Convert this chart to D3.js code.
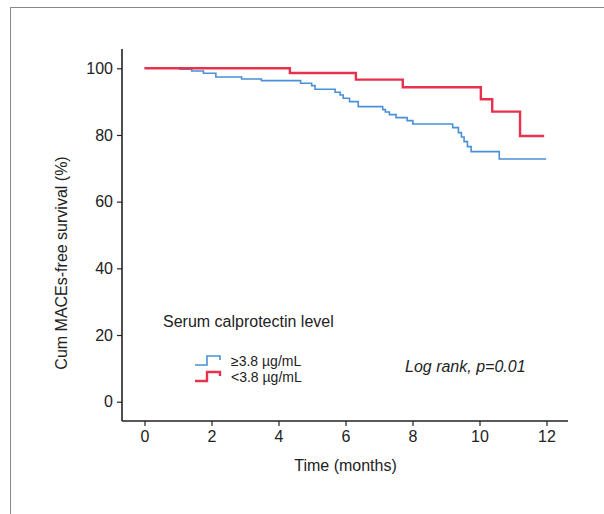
<!DOCTYPE html>
<html lang="en">
<head>
    <meta charset="UTF-8">
    <title>KM survival</title>
    <script src="https://d3js.org/d3.v7.min.js"></script>
    <style>
        body { margin: 0; background: #fff; }
        text { font-family: "Liberation Sans", Arial, sans-serif; fill: #222; }
        .axis text { font-size: 16px; }
        .axis line, .axis path { stroke: #222; }
        .km { fill: none; }
    </style>
</head>
<body>
    <svg width="604" height="514"></svg>
    <script>
        // event times (months) and survival (%)
        const highTimes = [0, 1.06, 1.41, 1.76, 2.13, 2.90, 3.49, 4.66, 4.99, 5.09, 5.69, 5.84, 5.93, 6.12, 6.38,
            7.11, 7.19, 7.31, 7.51, 7.84, 8.01, 9.20, 9.37, 9.46, 9.54, 9.64, 9.75, 10.59, 11.99];
        const highSurv = [100, 99.7, 99.2, 98.5, 97.4, 96.8, 96.3, 95.5, 94.8, 93.7, 92.8, 92.0, 91.0, 90.0, 88.5,
            87.6, 86.9, 86.1, 85.2, 84.3, 83.3, 82.2, 80.7, 79.4, 78.0, 76.5, 75.0, 72.8, 72.8];

        const lowTimes = [0, 4.34, 6.31, 7.71, 10.04, 10.38, 11.21, 11.93];
        const lowSurv = [100, 98.6, 96.6, 94.3, 90.7, 87.0, 79.7, 79.7];

        const xTicks = [0, 2, 4, 6, 8, 10, 12];
        const yTicks = [0, 20, 40, 60, 80, 100];

        const svg = d3.select("svg");

        // outer frame (only top and left edges fall inside the picture)
        svg.append("rect")
            .attr("x", 10.5).attr("y", 7.5)
            .attr("width", 700).attr("height", 700)
            .attr("fill", "none").attr("stroke", "#8a8a8a").attr("stroke-width", 1);

        const x = d3.scaleLinear().domain([0, 12]).range([144.5, 546.5]);
        const y = d3.scaleLinear().domain([0, 100]).range([401.7, 68.3]);

        const axisX = 122, axisY = 421;

        // x axis
        const gx = svg.append("g").attr("class", "axis")
            .attr("transform", `translate(0,${axisY})`)
            .call(d3.axisBottom(x).tickValues(xTicks).tickSize(5).tickSizeOuter(0).tickPadding(5));
        gx.select(".domain").remove();
        gx.selectAll("line").attr("stroke-width", 1.2);
        svg.append("line")
            .attr("x1", axisX).attr("x2", 568).attr("y1", axisY).attr("y2", axisY)
            .attr("stroke", "#222").attr("stroke-width", 1.6);

        // y axis
        const gy = svg.append("g").attr("class", "axis")
            .attr("transform", `translate(${axisX},0)`)
            .call(d3.axisLeft(y).tickValues(yTicks).tickSize(5).tickSizeOuter(0).tickPadding(4));
        gy.select(".domain").remove();
        gy.selectAll("line").attr("stroke-width", 1.2);
        svg.append("line")
            .attr("x1", axisX).attr("x2", axisX).attr("y1", 49).attr("y2", axisY)
            .attr("stroke", "#222").attr("stroke-width", 1.6);

        svg.append("text")
            .attr("x", 345.5).attr("y", 471)
            .attr("text-anchor", "middle")
            .style("font-size", "16px")
            .text("Time (months)");

        svg.append("text")
            .attr("transform", "translate(67,263) rotate(-90)")
            .attr("text-anchor", "middle")
            .style("font-size", "16px")
            .text("Cum MACEs-free survival (%)");

        const step = d3.line()
            .x(d => x(d[0]))
            .y(d => y(d[1]))
            .curve(d3.curveStepAfter);

        svg.append("path").attr("class", "km")
            .attr("d", step(d3.zip(highTimes, highSurv)))
            .attr("stroke", "#4a90d9").attr("stroke-width", 1.6);

        svg.append("path").attr("class", "km")
            .attr("d", step(d3.zip(lowTimes, lowSurv)))
            .attr("stroke", "#e8314d").attr("stroke-width", 2.4);

        // legend
        svg.append("text")
            .attr("x", 163).attr("y", 327)
            .style("font-size", "16px")
            .text("Serum calprotectin level");

        const legend = [
            { label: "\u22653.8 \u00b5g/mL", color: "#4a90d9", width: 1.6, y: 365 },
            { label: "<3.8 \u00b5g/mL", color: "#e8314d", width: 2.4, y: 381 }
        ];
        legend.forEach(d => {
            svg.append("path")
                .attr("d", `M195,${d.y}H207V${d.y - 9}H220V${d.y - 5}`)
                .attr("fill", "none")
                .attr("stroke", d.color).attr("stroke-width", d.width);
            svg.append("text")
                .attr("x", 231).attr("y", d.y + 1)
                .style("font-size", "14px")
                .text(d.label);
        });

        svg.append("text")
            .attr("x", 405).attr("y", 372)
            .style("font-size", "16px")
            .style("font-style", "italic")
            .text("Log rank, p=0.01");
    </script>
</body>
</html>
